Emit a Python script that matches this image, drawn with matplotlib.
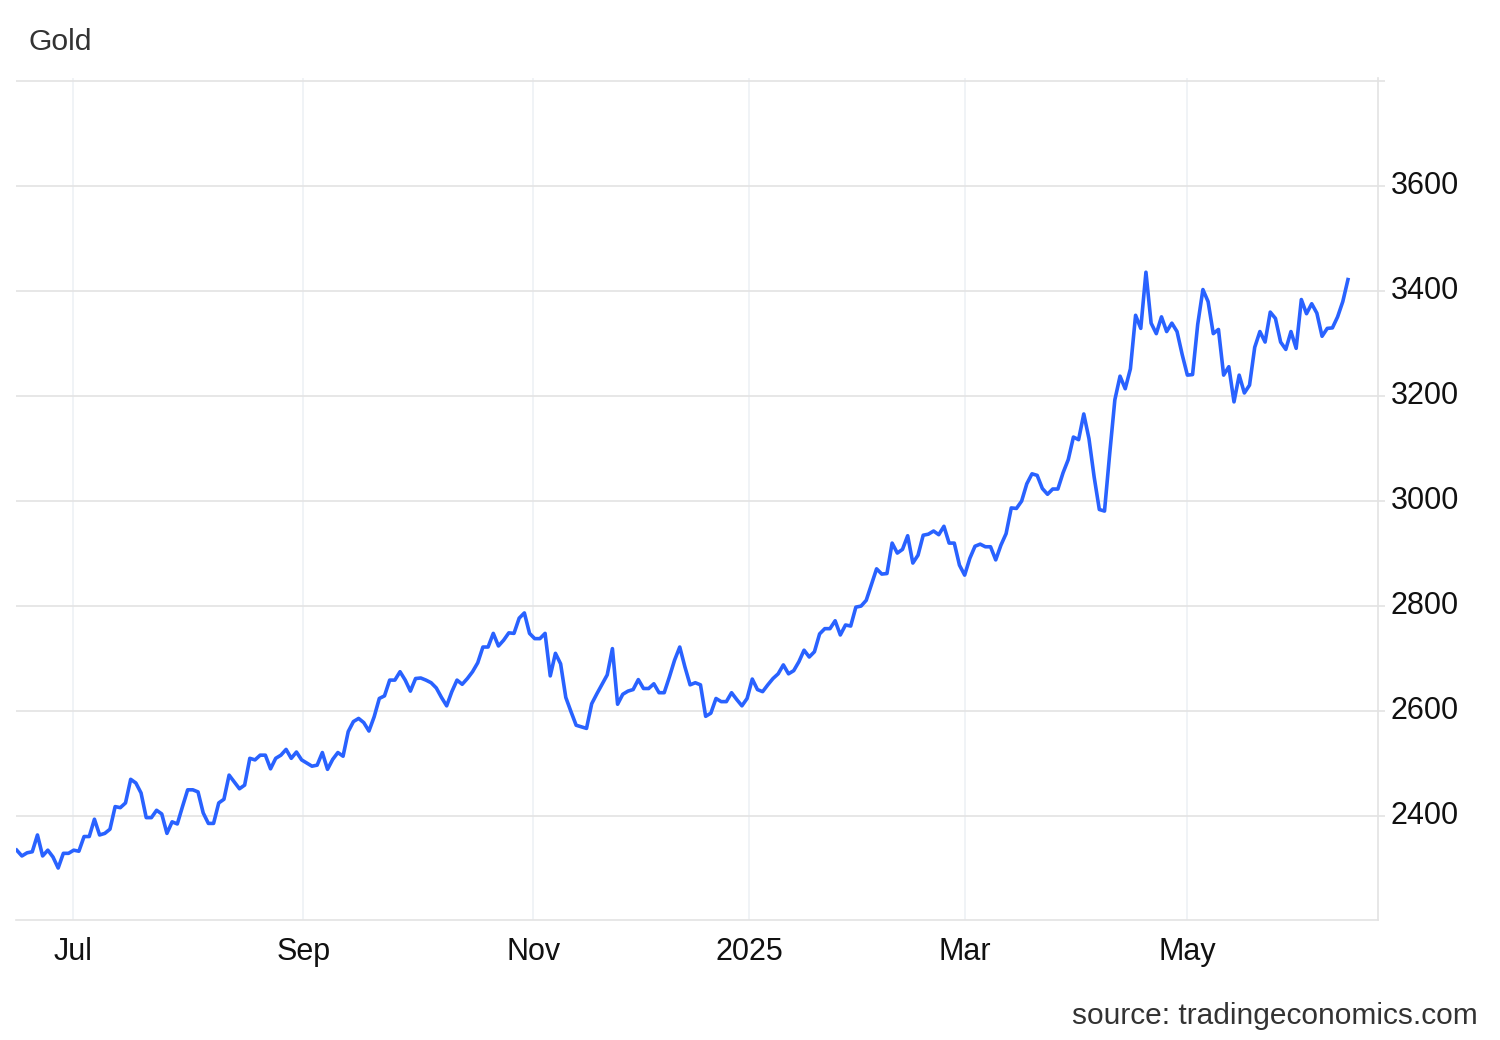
import matplotlib
matplotlib.use("Agg")
import matplotlib.pyplot as plt

plt.rcParams["font.family"] = ["Liberation Sans", "DejaVu Sans"]

# trading-day index of each read vertex and gold price (USD/oz)
day = list(range(0, 165)) + list(range(166, 258))
price = [
    2335, 2324, 2330, 2332, 2364, 2324, 2335, 2322, 2301, 2329,
    2329, 2335, 2333, 2361, 2361, 2394, 2364, 2367, 2375, 2418,
    2416, 2425, 2470, 2463, 2444, 2397, 2397, 2411, 2404, 2367,
    2389, 2385, 2418, 2450, 2450, 2446, 2406, 2386, 2386, 2425,
    2432, 2478, 2465, 2452, 2459, 2510, 2507, 2516, 2516, 2490,
    2510, 2516, 2527, 2510, 2522, 2507, 2501, 2495, 2497, 2521,
    2489, 2508, 2521, 2514, 2561, 2580, 2586, 2578, 2562, 2589,
    2624, 2629, 2659, 2659, 2675, 2659, 2638, 2662, 2663, 2659,
    2654, 2644, 2626, 2610, 2637, 2659, 2651, 2662, 2675, 2692,
    2722, 2722, 2748, 2724, 2735, 2749, 2748, 2777, 2787, 2748,
    2738, 2738, 2748, 2667, 2710, 2690, 2626, 2599, 2573, 2570,
    2567, 2614, 2633, 2651, 2669, 2719, 2613, 2632, 2638, 2641,
    2660, 2643, 2643, 2652, 2635, 2635, 2665, 2697, 2722, 2684,
    2650, 2654, 2650, 2590, 2596, 2624, 2618, 2618, 2635, 2622,
    2610, 2624, 2661, 2641, 2637, 2650, 2662, 2671, 2688, 2671,
    2677, 2694, 2716, 2703, 2713, 2747, 2757, 2757, 2772, 2745,
    2764, 2762, 2798, 2800, 2811,
    2871, 2861, 2862, 2920, 2901, 2908, 2934, 2882, 2897,
    2935, 2937, 2943, 2936, 2952, 2920, 2920, 2878, 2859, 2891,
    2914, 2918, 2913, 2913, 2888, 2916, 2938, 2987, 2986, 3000,
    3033, 3052, 3049, 3024, 3013, 3023, 3023, 3054, 3079, 3122,
    3117, 3166, 3119, 3046, 2984, 2981, 3090, 3193, 3238, 3214,
    3252, 3354, 3329, 3436, 3339, 3319, 3351, 3323, 3339, 3323,
    3279, 3240, 3241, 3337, 3403, 3380, 3319, 3327, 3240, 3256,
    3189, 3240, 3206, 3221, 3293, 3323, 3303, 3360, 3348, 3303,
    3289, 3323, 3291, 3384, 3357, 3376, 3358, 3314, 3329, 3330,
    3351, 3380, 3422,
]

month_pos = [10.9, 55.3, 99.7, 141.4, 183.1, 225.9]
month_labels = ["Jul", "Sep", "Nov", "2025", "Mar", "May"]
y_ticks = [2400, 2600, 2800, 3000, 3200, 3400, 3600]

fig = plt.figure(figsize=(15, 10.4), dpi=100)
ax = fig.add_axes([16 / 1500, 1 - 920 / 1040, 1362 / 1500, 842 / 1040])

ax.plot(day, price, color="#2962ff", linewidth=2.6, solid_joinstyle="round", zorder=3)

ax.set_xlim(-0.14, 262.8)
ax.set_ylim(2202, 3806)

ax.set_xticks(month_pos)
ax.set_xticklabels(month_labels)
ax.set_yticks(y_ticks + [3800])
ax.set_yticklabels([str(v) for v in y_ticks] + [""])
ax.yaxis.tick_right()

ax.grid(axis="y", color="#e3e3e3", linewidth=1.2)
ax.grid(axis="x", color="#eef1f5", linewidth=1.2)
ax.tick_params(axis="y", length=5, width=1.2, color="#e3e3e3", pad=4,
               labelsize=22, labelcolor="#111111")
ax.tick_params(axis="x", length=0, pad=12, labelsize=22, labelcolor="#111111")
for lbl in ax.get_yticklabels():
    lbl.set_va("center")

for side in ["top", "left"]:
    ax.spines[side].set_visible(False)
ax.spines["right"].set_color("#e3e3e3")
ax.spines["right"].set_linewidth(1.2)
ax.spines["bottom"].set_color("#e3e3e3")
ax.spines["bottom"].set_linewidth(1.2)

fig.text(28 / 1500, 1 - 42 / 1040, "Gold", fontsize=21.7, color="#333333",
         ha="left", va="center")
fig.text(1478 / 1500, 1 - 1016 / 1040, "source: tradingeconomics.com", fontsize=21.5,
         color="#333333", ha="right", va="center")

fig.savefig("out.png", dpi=100, facecolor="white")
